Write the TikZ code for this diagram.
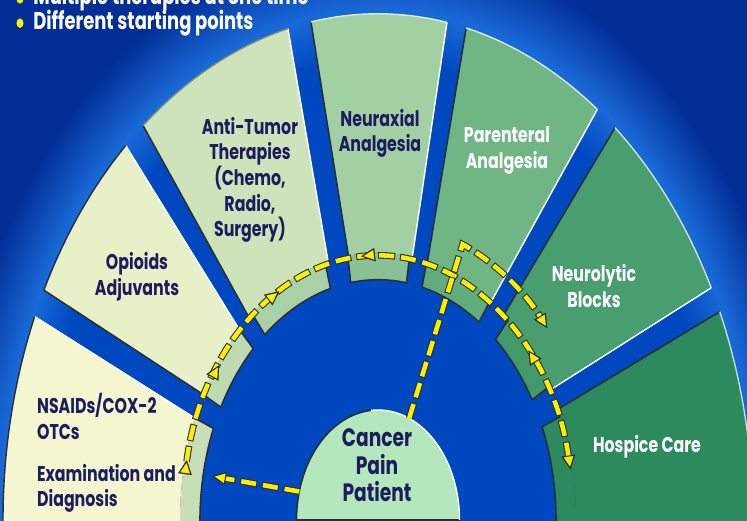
\documentclass[tikz,border=0pt]{standalone}
\usepackage{fontspec}
\setmainfont{Poppins}
\usetikzlibrary{arrows.meta,decorations.markings}
\definecolor{deepblue}{RGB}{2,46,150}
\definecolor{midblue}{RGB}{0,72,192}
\definecolor{glowblue}{RGB}{25,105,215}
\definecolor{navyink}{RGB}{28,28,95}
\definecolor{edgeink}{RGB}{40,48,55}
\definecolor{laneyellow}{RGB}{255,238,0}
\definecolor{mint}{RGB}{178,232,188}
\definecolor{cream}{RGB}{244,246,208}
\definecolor{straw}{RGB}{232,240,200}
\definecolor{sage}{RGB}{205,228,186}
\definecolor{fern}{RGB}{163,208,163}
\definecolor{jade}{RGB}{112,182,133}
\definecolor{moss}{RGB}{72,158,110}
\definecolor{pine}{RGB}{44,138,94}
\pgfdeclareradialshading{fanglow}{\pgfpoint{0bp}{0bp}}{color(0bp)=(midblue); color(17bp)=(midblue); color(18.9bp)=(glowblue); color(21.5bp)=(deepblue); color(50bp)=(deepblue)}
% radii of the fan (x units, stretched in y by the scope)
\newcommand{\rout}{7.5}
\newcommand{\rmid}{3.96}
\newcommand{\rin}{3.56}
\newcommand{\rlane}{3.92}
\newcommand{\rside}{4.42}
\newcommand{\rdome}{1.63}
\tikzset{
  lanehead/.tip={Triangle[length=8pt,width=7.5pt,fill=laneyellow,color=edgeink,line width=0.6pt]},
  lanecase/.style={draw=edgeink,line width=3.8pt,dash pattern=on 9.7pt off 2.8pt,dash phase=0.6pt},
  lanetop/.style={draw=laneyellow,line width=2.6pt,dash pattern=on 8.5pt off 4pt},
  midhead/.style={postaction={decorate,decoration={markings,mark=at position #1 with {\arrow{lanehead}}}}},
  midback/.style={postaction={decorate,decoration={markings,mark=at position #1 with {\arrowreversed{lanehead}}}}},
  darkrim/.style={draw=edgeink,line width=0.9pt},
  lightrim/.style={draw=white!80,line width=0.8pt},
  lbl/.style={font=\fontsize{9}{10.8}\selectfont\bfseries,text=navyink,align=center,inner sep=1pt,transform shape},
  wlbl/.style={lbl,text=white},
  toptext/.style={font=\fontsize{10.2}{11}\selectfont\bfseries,text=white,inner sep=0pt,transform shape},
  bulletdot/.style={circle,fill=laneyellow,inner sep=0pt,minimum size=4pt,transform shape},
}
% colour, outer lo/hi, inner lo/hi, band lo/hi, rim colour
\newcommand{\fansector}[8]{%
  \fill[#1!78!pine] (#6:\rin) -- (#6:\rmid) arc[start angle=#6,end angle=#7,radius=\rmid] -- (#7:\rin) arc[start angle=#7,end angle=#6,radius=\rin] -- cycle;
  \draw[darkrim] (#6:\rmid) -- (#6:\rin) arc[start angle=#6,end angle=#7,radius=\rin] -- (#7:\rmid);
  \fill[#1] (#4:\rmid) -- (#2:\rout) arc[start angle=#2,end angle=#3,radius=\rout] -- (#5:\rmid) arc[start angle=#5,end angle=#4,radius=\rmid] -- cycle;
  \draw[darkrim] (#5:\rmid) -- (#3:\rout);
  \draw[lightrim] (#4:\rmid) -- (#2:\rout);
  \draw[lightrim,draw=#8] (#2:\rout) arc[start angle=#2,end angle=#3,radius=\rout];
}
\newcommand{\lanepath}[2][]{\draw[lanecase,#1] #2; \draw[lanetop,#1] #2;}

\begin{document}
\begin{tikzpicture}
  \useasboundingbox (0,0) rectangle (14.94,10.42);
  \clip (0,0) rectangle (14.94,10.42);
  \fill[deepblue] (0,0) rectangle (14.94,10.42);
  \begin{scope}[shift={(7.56,0.02)},yscale=1.35]
    \shade[shading=fanglow] (0,0) circle[radius=10];
    % the seven therapy sectors, left to right
    \fansector{cream}{156.3}{182}{157.6}{182}{157.6}{182}{edgeink}
    \fansector{straw}{132.3}{153}{134.5}{152}{134.5}{152}{edgeink}
    \fansector{sage}{103.9}{128.8}{104.6}{130.7}{105.5}{129.5}{edgeink!50!sage}
    \fansector{fern}{79.4}{100.3}{80}{98.6}{80.8}{98.8}{white!60!fern}
    \fansector{jade}{54.2}{76.4}{55}{75.5}{55.4}{75.7}{white!70!jade}
    \fansector{moss}{27.3}{50.8}{29.2}{50.4}{30}{48.7}{white!70!moss}
    \fansector{pine}{-2}{24.3}{-2}{24.5}{-2}{22.8}{white!70!pine}
    % patient dome
    \fill[mint] (0:\rdome) arc[start angle=0,end angle=180,radius=\rdome] -- cycle;
    \draw[darkrim] (0:\rdome) -- (180:\rdome) arc[start angle=180,end angle=95,radius=\rdome];
    \draw[lightrim] (95:\rdome) arc[start angle=95,end angle=0,radius=\rdome];
    % labels
    \node[lbl,anchor=west,align=left] (nsaids) at (-6.86,1.53) {NSAIDs/COX-2\\OTCs};
    \node[lbl,anchor=west,align=left] (exam) at (-6.86,0.47) {Examination and\\Diagnosis};
    \node[lbl] (opioids) at (-4.82,3.60) {Opioids\\Adjuvants};
    \node[lbl] (antitumor) at (-2.56,5.04) {Anti-Tumor\\Therapies\\(Chemo,\\Radio,\\Surgery)};
    \node[lbl] (neuraxial) at (0.04,5.73) {Neuraxial\\Analgesia};
    \node[wlbl] (parenteral) at (2.58,5.47) {Parenteral\\Analgesia};
    \node[wlbl] (neurolytic) at (4.32,3.47) {Neurolytic\\Blocks};
    \node[wlbl] (hospice) at (5.38,1.08) {Hospice Care};
    \node[lbl,font=\fontsize{10.6}{11.6}\selectfont\bfseries] (patient) at (-0.02,0.81) {Cancer\\Pain\\Patient};
    % bullet lines
    \node[bulletdot] (dot1) at (-7.16,7.72) {};
    \node[toptext,anchor=base west] (line1) at (-6.9,7.64) {Multiple therapies at one time};
    \node[bulletdot] (dot2) at (-7.16,7.36) {};
    \node[toptext,anchor=base west] (line2) at (-6.9,7.27) {Different starting points};
    % yellow paths
    \coordinate (arcstart) at (170:\rlane);
    \coordinate (domeexit) at (67.5:\rdome);
    \coordinate (lanecorner) at (67.5:\rside);
    \coordinate (domeleft) at (165:\rdome);
    \coordinate (examtip) at (-3.32,0.65);
    \lanepath[{lanehead[reversed]}-{lanehead},midhead=0.182,midhead=0.334,midback=0.4765,midback=0.798]{(arcstart) arc[start angle=170,end angle=11,radius=\rlane]}
    \lanepath[-{lanehead}]{(domeexit) -- (lanecorner) arc[start angle=67.5,end angle=40,radius=\rside]}
    \lanepath[-{lanehead}]{(domeleft) -- (examtip)}
  \end{scope}
\end{tikzpicture}
\end{document}
